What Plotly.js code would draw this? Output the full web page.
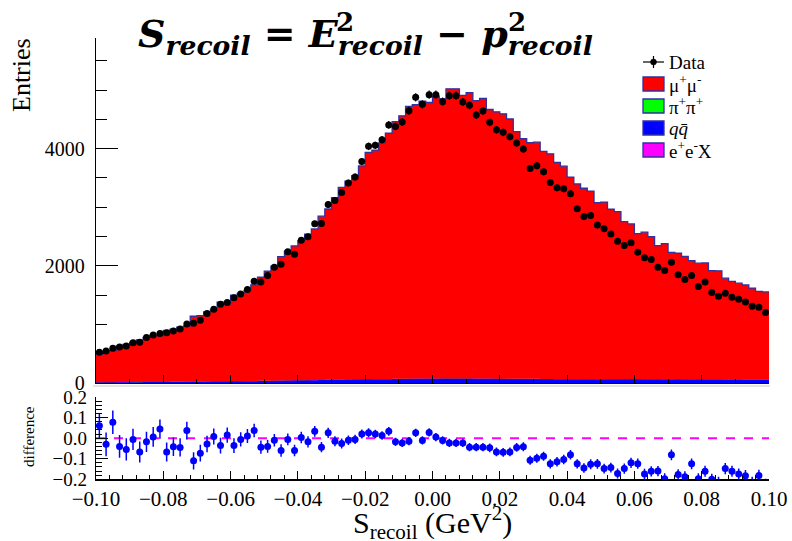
<!DOCTYPE html>
<html>
<head>
<meta charset="utf-8">
<script src="https://cdn.plot.ly/plotly-3.0.1.min.js"></script>
<style>html,body{margin:0;padding:0;background:#fff;}#chart{width:792px;height:541px;}</style>
</head>
<body>
<div id="chart"></div>
<script>
// ---- binning (categories) ----
const binLow = -0.1;
const binWidth = 0.002;
const nBins = 100;

// ---- data (entries per bin) ----
const dataCounts = [
 525,547,593,615,632,689,695,775,820,843,
 860,889,923,1009,1020,1071,1185,1259,1345,1376,
 1456,1521,1595,1738,1726,1834,1977,2029,2239,2200,
 2439,2496,2718,2723,3048,3116,3253,3413,3518,3780,
 4040,4057,4154,4405,4381,4456,4650,4877,4757,4923,
 4923,4803,4906,4906,4798,4740,4576,4644,4450,4322,
 4279,4205,4097,3995,3663,3709,3607,3424,3333,3316,
 3231,2974,2843,2860,2696,2632,2542,2422,2347,2393,
 2234,2137,2108,1978,1920,2063,1846,1766,1834,1646,
 1726,1544,1482,1533,1465,1431,1385,1311,1294,1202];

// ---- MC components ----
const mumu = [
 482,531,541,615,645,676,718,762,797,791,
 881,900,933,953,1117,1126,1189,1223,1352,1321,
 1469,1498,1546,1641,1768,1872,1957,2116,2209,2294,
 2385,2493,2580,2795,2916,3106,3282,3387,3480,3642,
 3873,3910,4033,4195,4390,4489,4648,4678,4735,4713,
 4822,4779,4945,4945,4834,4881,4745,4783,4594,4556,
 4522,4434,4218,4098,4031,4041,3885,3843,3697,3632,
 3447,3331,3257,3209,3014,3022,2900,2859,2690,2650,
 2485,2511,2436,2281,2317,2167,2152,2098,2028,1983,
 1989,1859,1854,1730,1675,1645,1616,1561,1506,1497];
const qq = [
 10,11,11,12,12,14,14,15,15,16,
 16,17,19,19,20,21,23,24,25,26,
 28,29,30,32,34,35,37,39,40,43,
 44,46,48,50,52,54,55,57,59,61,
 62,64,65,66,68,69,70,72,72,73,
 73,74,74,74,74,74,72,72,72,71,
 71,70,69,69,68,68,67,67,66,66,
 66,65,65,64,64,64,63,63,62,62,
 62,61,61,61,60,60,60,59,59,59,
 58,58,58,57,57,57,56,56,56,55];
const pipi = [
 1,0,1,1,0,1,1,1,0,1,
 1,1,0,1,1,1,0,1,1,1,
 1,1,1,0,1,1,1,1,2,1,
 1,1,1,1,2,1,1,1,1,1,
 2,1,1,1,1,2,1,1,1,1,
 1,2,1,1,1,1,1,2,1,1,
 1,1,1,1,2,1,1,1,1,1,
 1,1,2,1,1,1,1,1,1,2,
 1,1,1,1,1,1,2,1,1,1,
 1,1,1,2,1,1,1,1,1,1];
const eeX = [
 2,2,2,2,3,2,2,2,3,2,
 2,2,3,2,2,2,3,2,2,2,
 2,2,2,3,2,2,2,2,1,2,
 2,2,2,2,1,2,2,2,2,2,
 1,2,2,2,2,1,2,2,2,2,
 2,1,2,2,2,2,2,1,2,2,
 2,2,2,2,1,2,2,2,2,2,
 2,2,1,2,2,2,2,2,2,1,
 2,2,2,2,2,2,1,2,2,2,
 2,2,2,1,2,2,2,2,2,2];

// ---- lower panel: difference ----
const diffVals = [
 0.060,-0.030,0.077,-0.040,-0.055,-0.006,-0.067,-0.018,0.006,0.044,
 -0.067,-0.042,-0.045,0.037,-0.110,-0.073,-0.028,0.008,-0.036,0.015,
 -0.036,-0.006,0.010,0.037,-0.044,-0.040,-0.010,-0.060,-0.006,-0.060,
 0.003,-0.018,0.033,-0.044,0.026,-0.015,-0.026,-0.010,-0.006,0.020,
 0.026,0.020,0.013,0.033,-0.018,-0.023,-0.015,0.026,-0.011,0.028,
 0.005,-0.011,-0.023,-0.023,-0.023,-0.044,-0.044,-0.044,-0.047,-0.067,
 -0.069,-0.067,-0.045,-0.042,-0.107,-0.098,-0.088,-0.125,-0.115,-0.104,
 -0.081,-0.125,-0.145,-0.127,-0.125,-0.148,-0.143,-0.172,-0.148,-0.120,
 -0.124,-0.174,-0.161,-0.160,-0.197,-0.081,-0.177,-0.187,-0.125,-0.197,
 -0.161,-0.200,-0.215,-0.148,-0.161,-0.174,-0.183,-0.215,-0.182,-0.225];
const diffErr = [
 .060,.058,.057,.055,.054,.052,.051,.049,.048,.047,
 .046,.045,.044,.043,.042,.041,.040,.039,.038,.037,
 .036,.035,.034,.033,.032,.031,.030,.030,.029,.028,
 .028,.027,.026,.025,.025,.024,.024,.023,.023,.022,
 .022,.021,.021,.021,.020,.020,.020,.020,.020,.020,
 .020,.020,.020,.020,.020,.020,.020,.020,.021,.021,
 .021,.021,.021,.022,.022,.022,.022,.022,.023,.023,
 .023,.023,.023,.024,.024,.024,.024,.024,.025,.025,
 .025,.025,.025,.025,.026,.026,.026,.026,.026,.026,
 .027,.027,.027,.027,.027,.027,.028,.028,.028,.028];

// ---- text ----
const legendLabels = ["Data","μ<sup>+</sup>μ<sup>-</sup>","π<sup>+</sup>π<sup>+</sup>","<i>q</i><i>q̄</i>","e<sup>+</sup>e<sup>-</sup>X"];
const legendColors = ["#ff0000","#00ff00","#0000ff","#ff00ff"];

// ---- geometry helpers ----
const W = 792, H = 541, ML = 96, MR = 23;
const px = x => (x - ML) / (W - ML - MR);
const py = y => (H - y) / H;

const centers = [], edges = [];
for (let i = 0; i < nBins; i++) centers.push(binLow + binWidth * (i + 0.5));
for (let i = 0; i <= nBins; i++) edges.push(binLow + binWidth * i);
const stepY = arr => arr.concat([arr[arr.length - 1]]);

const serif = "Liberation Serif, Times New Roman, serif";
const mathFont = "DejaVu Serif, serif";

function stackTrace(arr, color, lineW, lineColor) {
  return {
    type: 'scatter', mode: 'lines', x: edges, y: stepY(arr),
    stackgroup: 'mc', line: {shape: 'hv', width: lineW, color: lineColor},
    fillcolor: color, xaxis: 'x', yaxis: 'y', hoverinfo: 'skip', showlegend: false
  };
}

const traces = [
  stackTrace(qq, '#0000ff', 0.8, '#0000cc'),
  stackTrace(pipi, '#00ff00', 0, '#00ff00'),
  stackTrace(eeX, '#ff00ff', 0, '#ff00ff'),
  stackTrace(mumu, '#ff0000', 1.3, '#3030a0'),
  {
    type: 'scatter', mode: 'markers', x: centers, y: dataCounts,
    marker: {symbol: 'circle', size: 7, color: '#000'},
    error_y: {type: 'sqrt', visible: true, color: '#000', thickness: 1.2, width: 0},
    xaxis: 'x', yaxis: 'y', showlegend: false, hoverinfo: 'skip'
  },
  {
    type: 'scatter', mode: 'markers', x: centers, y: diffVals,
    marker: {symbol: 'circle', size: 7, color: '#0000ff'},
    error_y: {type: 'data', array: diffErr, visible: true, color: '#0000ff', thickness: 1.5, width: 0},
    xaxis: 'x2', yaxis: 'y2', showlegend: false, hoverinfo: 'skip'
  }
];

const axisCommon = {
  showgrid: false, zeroline: false, showline: true, linecolor: '#000', linewidth: 1.2,
  ticks: 'inside', tickcolor: '#000', tickwidth: 1,
  tickfont: {family: serif, size: 20, color: '#000'}
};

const shapes = [
  {type: 'line', xref: 'x2', yref: 'y2', x0: -0.1, x1: 0.1, y0: 0, y1: 0,
   line: {color: '#ff00ff', width: 2, dash: 'dash'}, layer: 'below'},
  {type: 'line', xref: 'paper', yref: 'paper', x0: px(93), x1: px(770), y0: py(386), y1: py(386),
   line: {color: '#c8c8d0', width: 1}},
  // legend: data marker
  {type: 'line', xref: 'paper', yref: 'paper', x0: px(643), x1: px(664), y0: py(62), y1: py(62),
   line: {color: '#000', width: 1.2}},
  {type: 'line', xref: 'paper', yref: 'paper', x0: px(653.5), x1: px(653.5), y0: py(56), y1: py(68),
   line: {color: '#000', width: 1.2}},
  {type: 'circle', xref: 'paper', yref: 'paper', x0: px(650.5), x1: px(656.5), y0: py(59), y1: py(65),
   fillcolor: '#000', line: {color: '#000', width: 0.5}}
];
const boxTops = [77, 99, 121, 143];
legendColors.forEach((c, i) => {
  shapes.push({type: 'rect', xref: 'paper', yref: 'paper', x0: px(643), x1: px(664),
    y0: py(boxTops[i] + 14), y1: py(boxTops[i]), fillcolor: c, line: {color: '#3030a0', width: 1.3}});
});

function ann(text, x, y, size, family, extra) {
  return Object.assign({text: text, xref: 'paper', yref: 'paper', x: px(x), y: py(y),
    xanchor: 'center', yanchor: 'middle', showarrow: false,
    font: {family: family, size: size, color: '#000'}}, extra || {});
}

const annotations = [
  ann('Entries', 22, 75, 26, serif, {textangle: -90}),
  ann('difference', 29, 437, 15, serif, {textangle: -90}),
  ann('S<sub>recoil</sub> (GeV<sup>2</sup>)', 432, 522, 30, serif),
  ann('<b><i>S<sub>recoil</sub> = E<sub>recoil</sub> − p<sub>recoil</sub></i></b>', 365, 9, 38, mathFont, {yanchor: 'top'}),
  ann('<b>2</b>', 345, 5, 26, mathFont, {yanchor: 'top'}),
  ann('<b>2</b>', 517, 5, 26, mathFont, {yanchor: 'top'})
];
const labelY = [62, 84, 106, 128, 150];
legendLabels.forEach((t, i) => {
  annotations.push(ann(t, 667, labelY[i], 19, serif, {xanchor: 'left'}));
});

const layout = {
  width: W, height: H, margin: {l: ML, r: MR, t: 0, b: 0},
  paper_bgcolor: '#fff', plot_bgcolor: 'rgba(0,0,0,0)', showlegend: false,
  xaxis: Object.assign({}, axisCommon, {domain: [0, 1], range: [-0.1, 0.1], anchor: 'y',
    showticklabels: false, dtick: 0.02, tick0: -0.1, ticklen: 8,
    minor: {dtick: 0.01, ticklen: 4, ticks: 'inside', tickcolor: '#000'}}),
  yaxis: Object.assign({}, axisCommon, {domain: [py(383), py(38)], range: [0, 5890], anchor: 'x',
    dtick: 2000, ticklen: 22, ticklabelstandoff: 6,
    minor: {dtick: 500, ticklen: 11, ticks: 'inside', tickcolor: '#000'}}),
  xaxis2: Object.assign({}, axisCommon, {domain: [0, 1], range: [-0.1, 0.1], anchor: 'y2',
    dtick: 0.02, tick0: -0.1, ticklen: 8, tickformat: '.2f',
    tickfont: {family: serif, size: 21, color: '#000'},
    minor: {dtick: 0.004, ticklen: 4, ticks: 'inside', tickcolor: '#000'}}),
  yaxis2: Object.assign({}, axisCommon, {domain: [py(479.3), py(397)], range: [-0.2, 0.2], anchor: 'x2',
    dtick: 0.1, ticklen: 12, tickformat: '.1f', ticklabelstandoff: 4,
    tickfont: {family: serif, size: 19, color: '#000'},
    minor: {dtick: 0.02, ticklen: 6, ticks: 'inside', tickcolor: '#000'}}),
  shapes: shapes,
  annotations: annotations
};

Plotly.newPlot('chart', traces, layout, {displayModeBar: false, staticPlot: true});
</script>
</body>
</html>
